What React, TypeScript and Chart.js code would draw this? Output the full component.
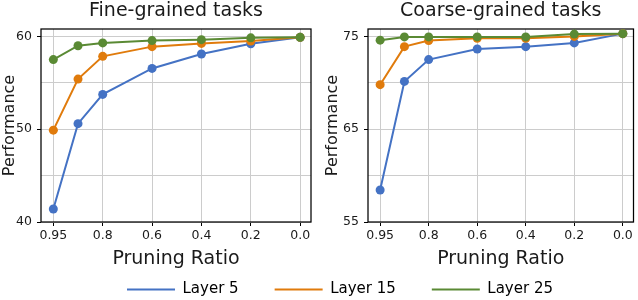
import React, { useEffect, useRef } from "react";
import { Chart, registerables } from "chart.js";

Chart.register(...registerables);

const FONT = "'DejaVu Sans', Verdana, sans-serif";
const TEXT = "#1a1a1a";

// Pruning ratios (x categories) and their slot along the axis (0.9 sits halfway between 0.95 and 0.8)
const pruningRatios = ["0.95", "0.9", "0.8", "0.6", "0.4", "0.2", "0.0"];
const ratioSlots = [0, 0.5, 1, 2, 3, 4, 5];
const xTickSlots = [0, 1, 2, 3, 4, 5];
const xTickLabels = ["0.95", "0.8", "0.6", "0.4", "0.2", "0.0"];

const seriesNames = ["Layer 5", "Layer 15", "Layer 25"];
const seriesColors = ["#4472c4", "#e07b0c", "#5a8a34"];

// Fine-grained tasks
const fineLayer5 = [41.4, 50.6, 53.75, 56.55, 58.1, 59.2, 59.9];
const fineLayer15 = [49.9, 55.4, 57.85, 58.9, 59.25, 59.5, 59.9];
const fineLayer25 = [57.5, 59.0, 59.3, 59.55, 59.65, 59.85, 59.9];

// Coarse-grained tasks
const coarseLayer5 = [58.45, 70.15, 72.5, 73.65, 73.9, 74.3, 75.3];
const coarseLayer15 = [69.8, 73.9, 74.55, 74.8, 74.8, 75.0, 75.3];
const coarseLayer25 = [74.6, 74.95, 74.95, 74.95, 74.95, 75.25, 75.3];

const fineYTicks = [40, 45, 50, 55, 60];
const fineYLabels = [40, 50, 60];
const coarseYTicks = [55, 60, 65, 70, 75];
const coarseYLabels = [55, 65, 75];

const framePlugin = {
  id: "frame",
  beforeDatasetsDraw(chart: any) {
    const { ctx, chartArea } = chart;
    ctx.save();
    ctx.strokeStyle = "#000";
    ctx.lineWidth = 1.25;
    ctx.strokeRect(chartArea.left, chartArea.top, chartArea.right - chartArea.left, chartArea.bottom - chartArea.top);
    ctx.restore();
  },
};

const panelTitlePlugin = {
  id: "panelTitle",
  afterDraw(chart: any, _args: any, opts: any) {
    const { ctx, chartArea } = chart;
    ctx.save();
    ctx.font = `19px ${FONT}`;
    ctx.fillStyle = TEXT;
    ctx.textAlign = "center";
    ctx.textBaseline = "alphabetic";
    ctx.fillText(opts.text, (chartArea.left + chartArea.right) / 2, opts.y);
    ctx.restore();
  },
};

function makeConfig(p: {
  title: string;
  series: number[][];
  yMin: number;
  yMax: number;
  yTicks: number[];
  yLabels: number[];
  yAxisWidth: number;
  rightPad: number;
  yTitlePad: number;
}): any {
  return {
    type: "line",
    data: {
      datasets: p.series.map((vals, i) => ({
        label: seriesNames[i],
        data: ratioSlots.map((x, j) => ({ x, y: vals[j] })),
        borderColor: seriesColors[i],
        backgroundColor: seriesColors[i],
        pointBackgroundColor: seriesColors[i],
        pointBorderColor: seriesColors[i],
        pointBorderWidth: 0,
        pointRadius: 4.5,
        borderWidth: 2,
        tension: 0,
        clip: false,
        order: 2 - i,
      })),
    },
    options: {
      animation: false,
      responsive: false,
      layout: { padding: { top: 29, right: p.rightPad, left: 0, bottom: 0 } },
      plugins: {
        legend: { display: false },
        tooltip: { enabled: false },
        panelTitle: { text: p.title, y: 16 },
      },
      scales: {
        x: {
          type: "linear",
          min: -0.25,
          max: 5.22,
          afterBuildTicks: (s: any) => {
            s.ticks = xTickSlots.map((v) => ({ value: v }));
          },
          afterFit: (s: any) => {
            s.height = 50;
          },
          ticks: {
            callback: (_v: any, i: number) => xTickLabels[i],
            font: { family: FONT, size: 12.5 },
            color: TEXT,
            padding: 2,
            maxRotation: 0,
            autoSkip: false,
          },
          grid: { color: "#cccccc", lineWidth: 1, tickLength: 4, tickColor: "#000" },
          border: { display: false },
          title: {
            display: true,
            text: "Pruning Ratio",
            color: TEXT,
            font: { family: FONT, size: 19, lineHeight: 1.2 },
            padding: { top: 0, bottom: 1.6 },
          },
        },
        y: {
          type: "linear",
          min: p.yMin,
          max: p.yMax,
          afterBuildTicks: (s: any) => {
            s.ticks = p.yTicks.map((v) => ({ value: v }));
          },
          afterFit: (s: any) => {
            s.width = p.yAxisWidth;
          },
          ticks: {
            callback: (v: any) => (p.yLabels.includes(v) ? String(v) : ""),
            font: { family: FONT, size: 12.5 },
            color: TEXT,
            padding: 5,
            autoSkip: false,
          },
          grid: {
            color: "#cccccc",
            lineWidth: 1,
            tickLength: 4,
            tickColor: (c: any) => (c.tick && p.yLabels.includes(c.tick.value) ? "#000" : "rgba(0,0,0,0)"),
          },
          border: { display: false },
          title: {
            display: true,
            text: "Performance",
            color: TEXT,
            font: { family: FONT, size: 16, lineHeight: 1.2 },
            padding: { top: p.yTitlePad, bottom: 0 },
          },
        },
      },
    },
    plugins: [framePlugin, panelTitlePlugin],
  };
}

function PanelChart(props: { config: any; style: React.CSSProperties; width: number; height: number }) {
  const ref = useRef<HTMLCanvasElement | null>(null);
  useEffect(() => {
    if (!ref.current) return;
    const chart = new Chart(ref.current, props.config);
    return () => chart.destroy();
  }, []);
  return <canvas ref={ref} width={props.width} height={props.height} style={{ position: "absolute", display: "block", ...props.style }} />;
}

const legendConfig: any = {
  type: "line",
  data: {
    datasets: seriesNames.map((n, i) => ({ label: n, data: [], borderColor: seriesColors[i], backgroundColor: seriesColors[i] })),
  },
  options: {
    animation: false,
    responsive: false,
    layout: { padding: 0 },
    scales: { x: { display: false }, y: { display: false } },
    plugins: {
      tooltip: { enabled: false },
      legend: {
        display: true,
        position: "top",
        maxHeight: 120,
        labels: {
          boxWidth: 48,
          boxHeight: 2,
          padding: 36,
          color: TEXT,
          font: { family: FONT, size: 15 },
          generateLabels: () =>
            seriesNames.map((n, i) => ({
              text: n,
              fillStyle: seriesColors[i],
              strokeStyle: seriesColors[i],
              lineWidth: 0,
              hidden: false,
              datasetIndex: i,
            })),
        },
      },
    },
  },
};

export default function App() {
  const fineConfig = makeConfig({
    title: "Fine-grained tasks",
    series: [fineLayer5, fineLayer15, fineLayer25],
    yMin: 40,
    yMax: 60.8,
    yTicks: fineYTicks,
    yLabels: fineYLabels,
    yAxisWidth: 41,
    rightPad: 9,
    yTitlePad: 0,
  });
  const coarseConfig = makeConfig({
    title: "Coarse-grained tasks",
    series: [coarseLayer5, coarseLayer15, coarseLayer25],
    yMin: 55,
    yMax: 75.8,
    yTicks: coarseYTicks,
    yLabels: coarseYLabels,
    yAxisWidth: 48,
    rightPad: 2,
    yTitlePad: 3,
  });
  return (
    <div style={{ position: "absolute", left: 0, top: 0, width: 638, height: 300, overflow: "hidden", background: "#fff" }}>
      <PanelChart config={fineConfig} width={320} height={272} style={{ left: 0, top: 0 }} />
      <PanelChart config={coarseConfig} width={318} height={272} style={{ left: 320, top: 0 }} />
      <PanelChart config={legendConfig} width={600} height={240} style={{ left: 40, top: 246 }} />
    </div>
  );
}
